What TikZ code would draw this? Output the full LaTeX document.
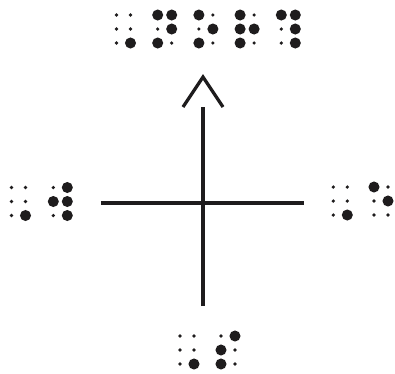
\documentclass[tikz,border=0pt]{standalone}
\definecolor{inkcol}{RGB}{30,28,29}
\newcommand{\braillecell}[3]{%
  \foreach \cx in {0,1}{\foreach \ry in {0,1,2}{\fill[inkcol] (#1+14*\cx,#2+14*\ry) circle (0.45mm);}}
  \foreach \d in {#3}{%
    \pgfmathtruncatemacro{\dc}{int((\d-1)/3)}%
    \pgfmathtruncatemacro{\dr}{mod(\d-1,3)}%
    \fill[inkcol] (#1+14*\dc,#2+14*\dr) circle (1.38mm);}}
\begin{document}
\begin{tikzpicture}[x=0.25mm,y=-0.25mm]
\useasboundingbox (0,0) rectangle (395,373);
\tikzset{axis/.style={draw=inkcol,line width=0.8mm}}
\coordinate (centre) at (203,203);
\coordinate (north) at (203,107);
\coordinate (south) at (203,306);
\coordinate (west) at (101,203);
\coordinate (east) at (304,203);
\coordinate (tip) at (203,77);
\coordinate (lwing) at (183,107);
\coordinate (rwing) at (223,107);
\draw[axis] (west) -- (east);
\draw[axis] (south) -- (north);
\draw[axis] (lwing) -- (tip) -- (rwing);
\braillecell{116.5}{15}{6}
\braillecell{157.7}{15}{1,3,4,5}
\braillecell{198.9}{15}{1,3,5}
\braillecell{240.1}{15}{1,2,3,5}
\braillecell{281.3}{15}{1,4,5,6}
\braillecell{11.5}{187.5}{6}
\braillecell{53.3}{187.5}{2,4,5,6}
\braillecell{333.3}{187}{6}
\braillecell{374}{187}{1,5}
\braillecell{180}{336}{6}
\braillecell{221}{336}{2,3,4}
\end{tikzpicture}
\end{document}
